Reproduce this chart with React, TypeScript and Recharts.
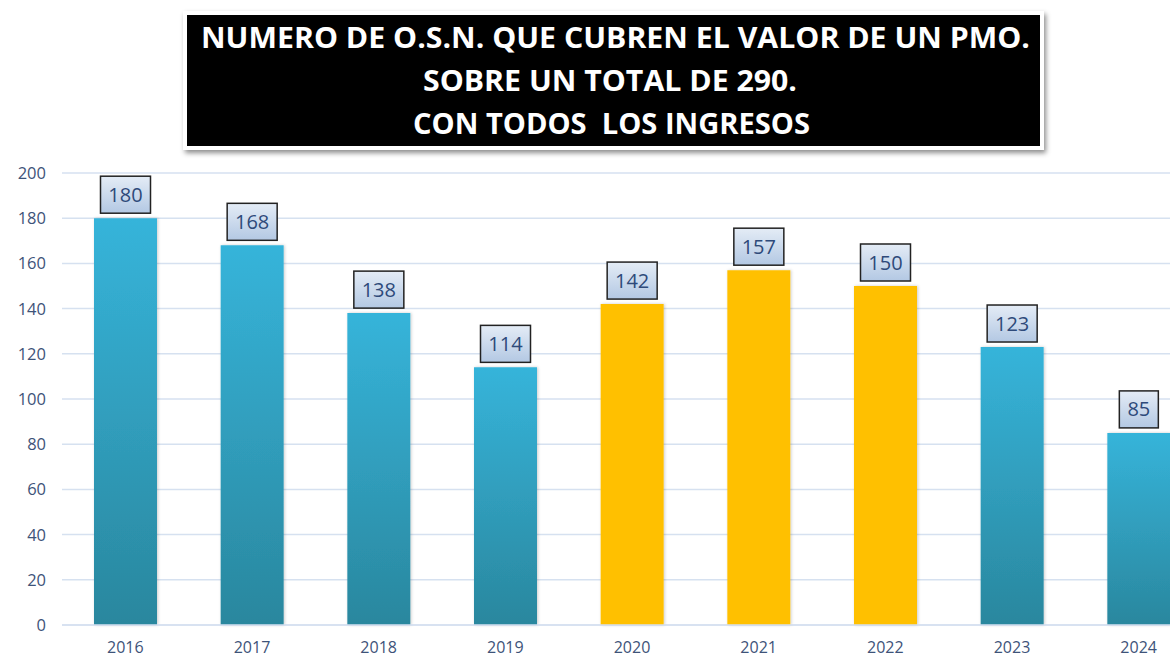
import React from "react";
import { BarChart, Bar, XAxis, YAxis, CartesianGrid, Cell, LabelList } from "recharts";

const years = ["2016", "2017", "2018", "2019", "2020", "2021", "2022", "2023", "2024"];
const values = [180, 168, 138, 114, 142, 157, 150, 123, 85];
const highlighted = [false, false, false, false, true, true, true, false, false];
const yTicks = [0, 20, 40, 60, 80, 100, 120, 140, 160, 180, 200];
const titleLines = [
  "NUMERO DE O.S.N. QUE CUBREN EL VALOR DE UN PMO.",
  "SOBRE UN TOTAL DE 290.",
  "CON TODOS  LOS INGRESOS",
];

const data = years.map((y, i) => ({ year: y, value: values[i], hl: highlighted[i] }));

const tickColor = "#3E5379";

const XTick = (props: any) => {
  const { x, y, payload } = props;
  return (
    <text x={x} y={y + 28} textAnchor="middle" fontSize={16} fill={tickColor} fontFamily="Open Sans, sans-serif">
      {payload.value}
    </text>
  );
};

const YTick = (props: any) => {
  const { x, y, payload } = props;
  return (
    <text x={x - 16} y={y + 6} textAnchor="end" fontSize={16.5} fill={tickColor} fontFamily="Open Sans, sans-serif">
      {payload.value}
    </text>
  );
};

const ValueLabel = (props: any) => {
  const { x, y, width, value } = props;
  const s = String(value);
  const w = s.length >= 3 ? 50 : 39;
  const h = 37;
  const cx = x + width / 2;
  const top = y - 5 - h;
  return (
    <g>
      <rect x={cx - w / 2} y={top} width={w} height={h} fill="url(#labelGrad)" stroke="#222" strokeWidth={1.5} />
      <text x={cx} y={top + h / 2 + 7} textAnchor="middle" fontSize={20} fill="#2E4A7A" fontFamily="Open Sans, sans-serif">
        {s}
      </text>
    </g>
  );
};

const titleFont = { fill: "#fff", fontSize: 29, fontWeight: 700, fontFamily: "Open Sans, sans-serif" } as const;

export default function App() {
  return (
    <div style={{ position: "absolute", left: 0, top: 0, width: 1170, height: 657, overflow: "hidden", background: "#fff" }}>
      <BarChart width={1202} height={657} data={data} margin={{ top: 173, right: 0, bottom: 0, left: 0 }}>
        <defs>
          <linearGradient id="blueGrad" x1="0" y1="0" x2="0" y2="1">
            <stop offset="0%" stopColor="#36B4DA" />
            <stop offset="100%" stopColor="#2A879E" />
          </linearGradient>
          <linearGradient id="labelGrad" x1="0" y1="0" x2="0" y2="1">
            <stop offset="0%" stopColor="#E4ECF6" />
            <stop offset="100%" stopColor="#B3C8E3" />
          </linearGradient>
          <filter id="barShadow" x="-20%" y="-5%" width="140%" height="110%">
            <feDropShadow dx="1" dy="0" stdDeviation="1.5" floodColor="#000" floodOpacity="0.2" />
          </filter>
        </defs>
        <CartesianGrid vertical={false} stroke="#D6E1F0" strokeWidth={1.5} />
        <XAxis dataKey="year" height={32} axisLine={{ stroke: "#D6E1F0", strokeWidth: 1.5 }} tickLine={false} tickSize={0} tickMargin={0} tick={<XTick />} interval={0} />
        <YAxis width={62} domain={[0, 200]} ticks={yTicks} axisLine={false} tickLine={false} tickSize={0} tickMargin={0} tick={<YTick />} interval={0} />
        <Bar dataKey="value" barSize={63} isAnimationActive={false} style={{ filter: "url(#barShadow)" }}>
          {data.map((d, i) => (
            <Cell key={i} fill={d.hl ? "#FFC000" : "url(#blueGrad)"} />
          ))}
          <LabelList dataKey="value" content={<ValueLabel />} />
        </Bar>
      </BarChart>
      <div
        style={{
          position: "absolute",
          left: 183,
          top: 11,
          width: 853,
          height: 131,
          background: "#000",
          border: "4px solid #fff",
          boxShadow: "2px 3px 5px rgba(0,0,0,0.45)",
        }}
      >
        <svg width={853} height={131} style={{ display: "block" }}>
          <text x={14} y={33} {...titleFont} textLength={829} lengthAdjust="spacingAndGlyphs">
            {titleLines[0]}
          </text>
          <text x={236} y={76} {...titleFont} textLength={374} lengthAdjust="spacingAndGlyphs">
            {titleLines[1]}
          </text>
          <text x={226} y={119} {...titleFont} textLength={397} lengthAdjust="spacingAndGlyphs" style={{ whiteSpace: "pre" }}>
            {titleLines[2]}
          </text>
        </svg>
      </div>
    </div>
  );
}
